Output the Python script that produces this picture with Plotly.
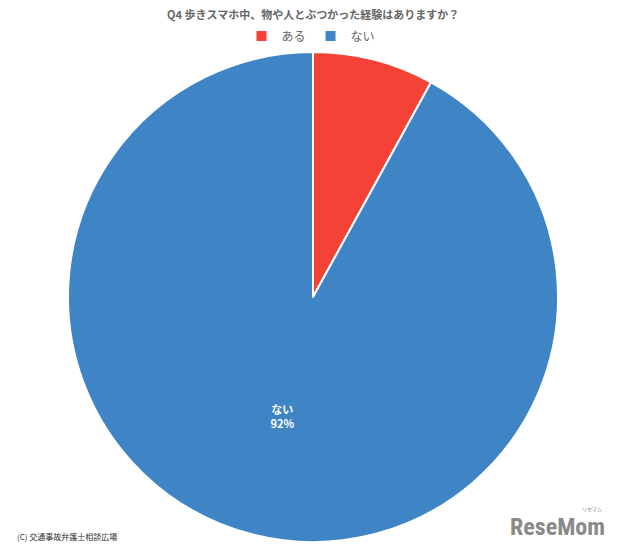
import plotly.graph_objects as go

labels = ["ある", "ない"]
values = [8, 92]
colors = ["#F44336", "#3F84C5"]
title_text = "Q4 歩きスマホ中、物や人とぶつかった経験はありますか？"
credit_text = "(C) 交通事故弁護士相談広場"

W, H = 620, 549
OFF = 8  # page body margin offset
FONT = "Noto Sans CJK JP, Noto Sans, sans-serif"


def px_y(y):
    return (H - (y - OFF)) / H


def px_x(x):
    return (x - OFF) / W


fig = go.Figure(go.Pie(
    labels=labels,
    values=values,
    marker=dict(colors=colors, line=dict(color="white", width=2)),
    sort=False,
    direction="clockwise",
    rotation=0,
    texttemplate=["", "<b>%{label}<br>%{percent:.0%}</b>"],
    textposition="inside",
    insidetextorientation="horizontal",
    textfont=dict(family=FONT, size=11, color="white"),
    hoverinfo="label+percent",
    domain=dict(x=[0.0, 2 * px_x(313)], y=[px_y(542), px_y(52)]),
))

fig.update_layout(
    width=W, height=H,
    margin=dict(l=0, r=0, t=0, b=0),
    paper_bgcolor="white",
    plot_bgcolor="white",
    font=dict(family=FONT, color="#666"),
    showlegend=True,
    legend=dict(
        orientation="h",
        x=px_x(311), xanchor="center",
        y=px_y(36), yanchor="middle",
        font=dict(family=FONT, size=12, color="#666"),
        itemwidth=30,
        traceorder="normal",
    ),
    annotations=[
        dict(text="<b>" + title_text + "</b>", x=px_x(313), y=px_y(14),
             xref="paper", yref="paper", xanchor="center", yanchor="middle",
             showarrow=False, font=dict(family=FONT, size=11, color="#666")),
        dict(text=credit_text, x=px_x(15), y=px_y(536),
             xref="paper", yref="paper", xanchor="left", yanchor="middle",
             showarrow=False, font=dict(family=FONT, size=8, color="#333")),
        dict(text="<b>ReseMom</b>", x=px_x(607), y=px_y(527),
             xref="paper", yref="paper", xanchor="right", yanchor="middle",
             showarrow=False, font=dict(family="Roboto Condensed, Roboto, sans-serif", size=24, color="#8a8a8a")),
        dict(text="リセマム", x=px_x(604), y=px_y(509),
             xref="paper", yref="paper", xanchor="right", yanchor="middle",
             showarrow=False, font=dict(family=FONT, size=5, color="#8a8a8a")),
    ],
)

fig.write_html("out.html")
